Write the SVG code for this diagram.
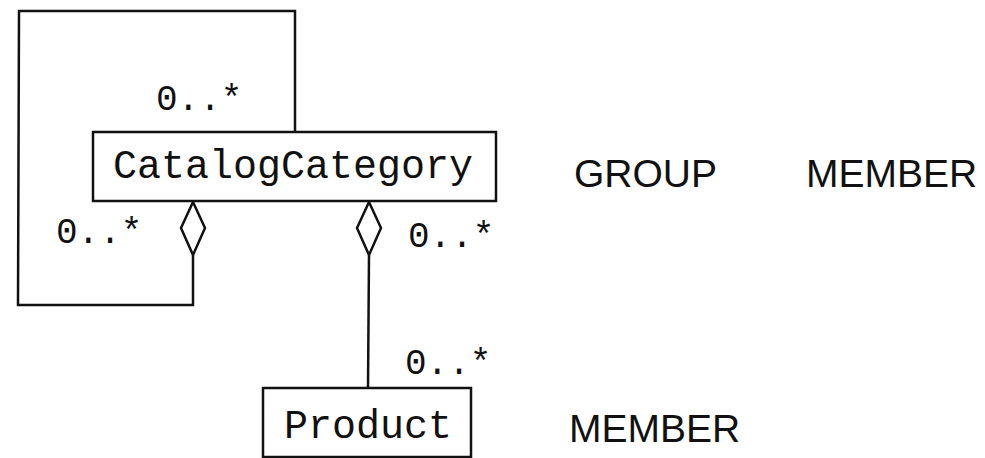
<svg xmlns="http://www.w3.org/2000/svg" width="985" height="458" viewBox="0 0 985 458">
<style>
.box{fill:#fff;stroke:#111;stroke-width:2.5}
.ln{fill:none;stroke:#111;stroke-width:2.5}
.dia{fill:#fff;stroke:#111;stroke-width:2.5}
.mono{font-family:"Liberation Mono","Courier New",monospace;fill:#111}
.cls{font-size:40px}
.mul{font-size:36px}
.sans{font-family:"Liberation Sans",Arial,Helvetica,sans-serif;font-size:39px;fill:#111}
</style>
<rect width="985" height="458" fill="#fff"/>
<g id="connectors">
<polyline class="ln" points="295,132 295,11 19,11 18,305 193,305 193,255"/>
<line class="ln" x1="369" y1="255" x2="368" y2="388"/>
<polygon class="dia" points="193,202 205,228 193,255 181,228"/>
<polygon class="dia" points="369,202 381,228 369,255 357,228"/>
<text class="mono mul" x="156" y="110">0..*</text>
<text class="mono mul" x="56" y="243">0..*</text>
<text class="mono mul" x="408" y="247">0..*</text>
<text class="mono mul" x="405" y="374">0..*</text>
</g>
<g id="CatalogCategory">
<rect class="box" x="93" y="132" width="403" height="69"/>
<text class="mono cls" x="113" y="178">CatalogCategory</text>
</g>
<g id="Product">
<rect class="box" x="263" y="388" width="208" height="69"/>
<text class="mono cls" x="284" y="438">Product</text>
</g>
<g id="labels">
<text class="sans" x="574" y="187">GROUP</text>
<text class="sans" x="806" y="187">MEMBER</text>
<text class="sans" x="569" y="442">MEMBER</text>
</g>
</svg>
